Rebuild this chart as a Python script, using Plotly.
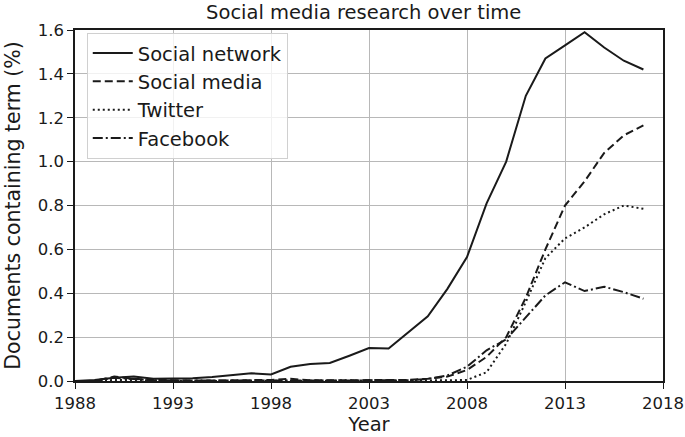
import plotly.graph_objects as go

years = list(range(1988, 2018))

social_network = [0.0, 0.005, 0.015, 0.02, 0.01, 0.01, 0.012, 0.018, 0.025, 0.035, 0.03,
                  0.065, 0.078, 0.082, 0.115, 0.15, 0.148, 0.22, 0.295, 0.42, 0.565,
                  0.81, 1.0, 1.30, 1.47, 1.53, 1.59, 1.52, 1.46, 1.42]
social_media = [0.0, 0.0, 0.02, 0.01, 0.005, 0.002, 0.002, 0.002, 0.002, 0.002, 0.005,
                0.01, 0.003, 0.003, 0.003, 0.005, 0.003, 0.005, 0.01, 0.02, 0.05,
                0.11, 0.2, 0.38, 0.6, 0.8, 0.91, 1.04, 1.12, 1.165]
twitter = [0.0, 0.0, 0.005, 0.005, 0.002, 0.002, 0.0, 0.0, 0.0, 0.0, 0.0,
           0.0, 0.0, 0.0, 0.0, 0.0, 0.0, 0.0, 0.0, 0.003, 0.005,
           0.04, 0.17, 0.36, 0.56, 0.65, 0.70, 0.76, 0.80, 0.785]
facebook = [0.0, 0.0, 0.015, 0.008, 0.003, 0.002, 0.002, 0.002, 0.002, 0.002, 0.003,
            0.003, 0.002, 0.002, 0.002, 0.003, 0.002, 0.003, 0.01, 0.025, 0.065,
            0.14, 0.19, 0.29, 0.39, 0.45, 0.41, 0.43, 0.405, 0.375]

series = [
    ("Social network", social_network, "solid"),
    ("Social media", social_media, "8px,4px"),
    ("Twitter", twitter, "2px,3px"),
    ("Facebook", facebook, "10px,3px,2px,3px"),
]

x_ticks = [1988, 1993, 1998, 2003, 2008, 2013, 2018]
y_ticks = [0.0, 0.2, 0.4, 0.6, 0.8, 1.0, 1.2, 1.4, 1.6]

fig = go.Figure()
for name, vals, dash in series:
    fig.add_trace(go.Scatter(x=years, y=vals, mode="lines", name=name,
                             line=dict(color="#1a1a1a", width=2, dash=dash)))

font = "DejaVu Sans, sans-serif"
fig.update_layout(
    width=685, height=437,
    margin=dict(l=75, r=22, t=30, b=56, autoexpand=False),
    paper_bgcolor="white", plot_bgcolor="white",
    font=dict(family=font, color="#1a1a1a", size=16.5),
    title=dict(text="Social media research over time", x=0.491, xanchor="center",
               xref="paper", yref="container", y=0.972, yanchor="middle",
               font=dict(size=19.5)),
    xaxis=dict(range=[1988, 2018], tickvals=x_ticks, ticktext=[str(t) for t in x_ticks],
               showgrid=True, gridcolor="#b8b8b8", gridwidth=1,
               showline=True, linecolor="#1a1a1a", linewidth=1.5, mirror=True,
               ticks="outside", ticklen=6, tickcolor="#1a1a1a",
               tickfont=dict(size=16.5), automargin=False,
               title=dict(text="Year", font=dict(size=19.5), standoff=4), zeroline=False),
    yaxis=dict(range=[0, 1.6], tickvals=y_ticks, ticktext=[f"{v:.1f}" for v in y_ticks],
               showgrid=True, gridcolor="#b8b8b8", gridwidth=1,
               showline=True, linecolor="#1a1a1a", linewidth=1.5, mirror=True,
               ticks="outside", ticklen=6, tickcolor="#1a1a1a",
               tickfont=dict(size=16.5), automargin=False,
               title=dict(text="Documents containing term (%)", font=dict(size=20.5), standoff=12),
               zeroline=False),
    legend=dict(x=0.02, y=0.992, xanchor="left", yanchor="top",
                bgcolor="rgba(255,255,255,0.8)", bordercolor="#d0d0d0", borderwidth=1,
                font=dict(size=19.5), tracegroupgap=0, itemwidth=40),
    showlegend=True,
)

fig.write_html("out.html", config={"displayModeBar": False},
               post_script="document.body.style.margin='0';document.body.style.padding='0';")
